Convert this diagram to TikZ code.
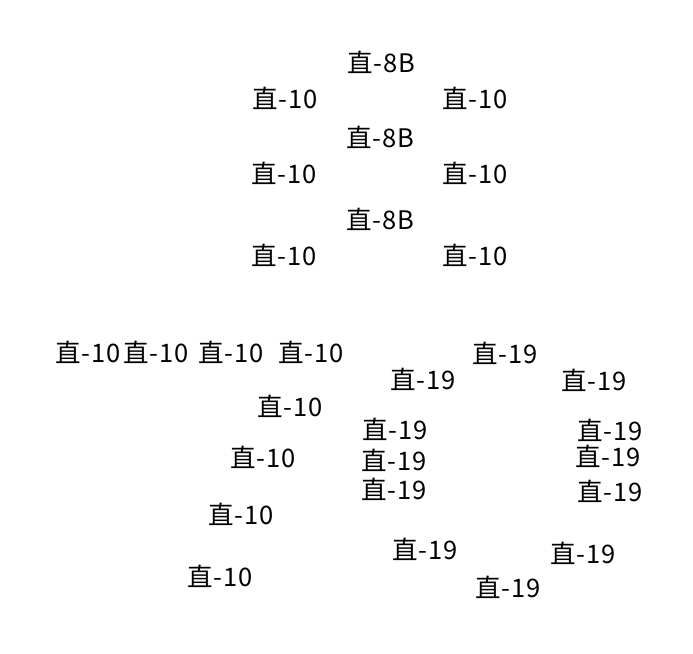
\documentclass[tikz,border=0pt]{standalone}
\usepackage{fontspec}
\newfontfamily\cjk[LetterSpace = 3]{Noto Sans CJK SC}
\tikzset{heli/.style = {font = \cjk\fontsize{25.5}{25.5}\selectfont, inner sep = 0pt, anchor = center}}

\begin{document}
\begin{tikzpicture}[x = 1pt, y = -1pt]
			\useasboundingbox (0, 0) rectangle (693, 653);

			% upper group
			\node[heli] (za) at (381, 62) {直-8B};
			\node[heli] (zb) at (380, 137) {直-8B};
			\node[heli] (zc) at (380, 219) {直-8B};
			\node[heli] (la) at (285, 98) {直-10};
			\node[heli] (lb) at (284, 173) {直-10};
			\node[heli] (lc) at (284, 255) {直-10};
			\node[heli] (ra) at (475, 98) {直-10};
			\node[heli] (rb) at (475, 173) {直-10};
			\node[heli] (rc) at (475, 255) {直-10};

			% lower left
			\node[heli] (ta) at (88, 352) {直-10};
			\node[heli] (tb) at (156, 352) {直-10};
			\node[heli] (tc) at (231, 352) {直-10};
			\node[heli] (td) at (311, 352) {直-10};
			\node[heli] (sa) at (290, 406) {直-10};
			\node[heli] (sb) at (263, 457) {直-10};
			\node[heli] (sc) at (241, 514) {直-10};
			\node[heli] (sd) at (220, 576) {直-10};

			% lower right
			\node[heli] (ca) at (505, 353) {直-19};
			\node[heli] (cb) at (423, 379) {直-19};
			\node[heli] (cc) at (594, 380) {直-19};
			\node[heli] (cd) at (395, 429) {直-19};
			\node[heli] (ce) at (394, 460) {直-19};
			\node[heli] (cf) at (394, 489) {直-19};
			\node[heli] (cg) at (610, 430) {直-19};
			\node[heli] (ch) at (608, 456) {直-19};
			\node[heli] (ci) at (610, 491) {直-19};
			\node[heli] (cj) at (425, 549) {直-19};
			\node[heli] (ck) at (583, 553) {直-19};
			\node[heli] (cl) at (508, 587) {直-19};
		\end{tikzpicture}
\end{document}
